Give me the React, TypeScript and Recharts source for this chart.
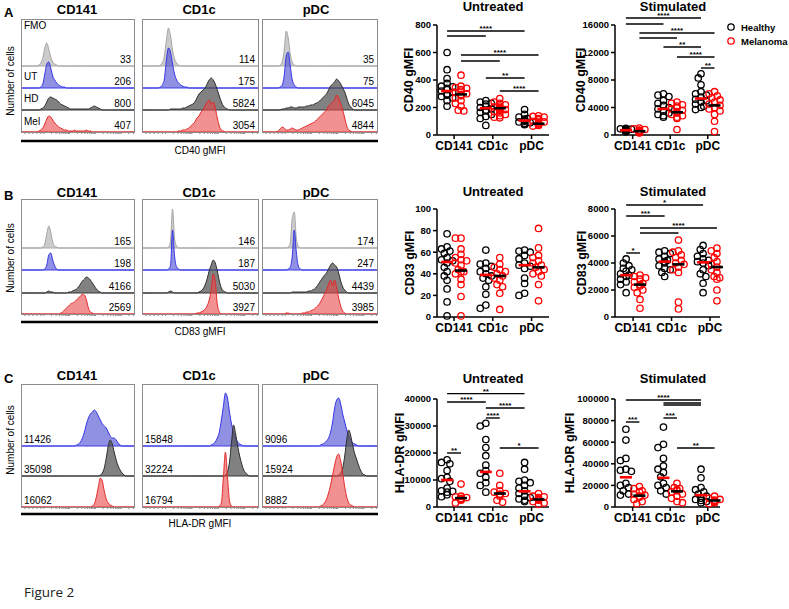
import React from "react";
import {
  AreaChart,
  Area,
  XAxis,
  YAxis,
  ScatterChart,
  Scatter,
  ReferenceLine,
} from "recharts";

const FONT = "'Liberation Sans', Arial, Helvetica, sans-serif";
const CATS = ["CD141", "CD1c", "pDC"];

// ---------- flow histograms: start bin (2px bins) + counts ----------
// A: CD40
const a141Fmo = { at: 9, n: [1, 3, 8, 18, 23, 17, 9, 4, 2, 1] };
const a141Ut = { at: 10, n: [1, 4, 14, 24, 26, 20, 12, 8, 5, 3, 2, 1, 1] };
const a141Hd = { at: 10, n: [1, 2, 4, 8, 12, 13, 12, 11, 10, 8, 6, 5, 4, 3, 2, 1, 1, 1, 1, 1, 1, 1, 1, 1, 1, 2, 3, 4, 3, 2, 1] };
const a141Mel = { at: 9, n: [1, 2, 4, 8, 13, 16, 15, 12, 9, 7, 5, 4, 3, 2, 2, 1, 1, 1, 2, 1, 1, 1, 1, 1, 2, 1, 1] };
const a1cFmo = { at: 9, n: [1, 3, 10, 26, 38, 30, 16, 7, 3, 1] };
const a1cUt = { at: 9, n: [1, 3, 9, 28, 40, 36, 24, 14, 8, 5, 3, 2, 1, 1] };
const a1cHd = { at: 14, n: [1, 1, 1, 1, 1, 1, 2, 2, 3, 4, 5, 6, 8, 12, 16, 18, 20, 22, 26, 30, 32, 30, 26, 20, 14, 8, 4, 2, 1] };
const a1cMel = { at: 18, n: [1, 1, 2, 2, 3, 4, 6, 8, 10, 14, 16, 20, 22, 26, 30, 32, 28, 30, 24, 14, 6, 2, 1] };
const aPdcFmo = { at: 9, n: [1, 4, 16, 35, 28, 12, 4, 1] };
const aPdcUt = { at: 9, n: [1, 3, 12, 32, 36, 22, 8, 3, 1] };
const aPdcHd = { at: 10, n: [1, 1, 2, 2, 3, 3, 2, 2, 3, 3, 3, 3, 4, 4, 5, 5, 6, 7, 8, 10, 12, 14, 16, 20, 24, 26, 28, 31, 29, 26, 22, 18, 12, 6, 3, 1] };
const aPdcMel = { at: 8, n: [1, 3, 5, 4, 2, 2, 3, 4, 3, 2, 2, 3, 4, 5, 6, 7, 8, 9, 10, 12, 14, 16, 18, 20, 22, 26, 28, 30, 32, 37, 34, 28, 22, 14, 6, 2, 1] };

// B: CD83
const b141Fmo = { at: 11, n: [1, 4, 14, 22, 16, 6, 2, 1] };
const b141Ut = { at: 12, n: [1, 5, 15, 17, 10, 4, 1] };
const b141Hd = { at: 13, n: [1, 2, 1, 1, 0, 0, 0, 0, 0, 0, 0, 1, 1, 2, 3, 4, 6, 9, 12, 14, 16, 15, 13, 10, 7, 4, 2, 1] };
const b141Mel = { at: 20, n: [1, 2, 4, 6, 8, 10, 11, 12, 14, 16, 18, 20, 19, 14, 6, 2, 1] };
const b1cFmo = { at: 13, n: [1, 6, 39, 10, 2] };
const b1cUt = { at: 13, n: [1, 4, 40, 14, 3, 1] };
const b1cHd = { at: 13, n: [1, 2, 1, 0, 0, 0, 0, 0, 0, 0, 0, 0, 0, 0, 0, 1, 2, 4, 8, 14, 22, 28, 33, 30, 22, 12, 5, 2, 1] };
const b1cMel = { at: 27, n: [1, 1, 2, 3, 5, 8, 14, 24, 40, 32, 10, 2] };
const bPdcFmo = { at: 13, n: [1, 5, 30, 36, 10, 2] };
const bPdcUt = { at: 13, n: [1, 3, 14, 40, 18, 4, 1] };
const bPdcHd = { at: 15, n: [1, 1, 1, 1, 1, 1, 1, 1, 2, 2, 3, 4, 6, 9, 12, 15, 18, 20, 24, 28, 30, 28, 26, 20, 12, 6, 3, 1] };
const bPdcMel = { at: 12, n: [1, 1, 0, 0, 0, 0, 0, 0, 1, 1, 2, 2, 3, 4, 5, 7, 9, 12, 16, 20, 24, 30, 34, 28, 34, 26, 16, 8, 3, 1] };

// C: HLA-DR
const c141Ut = { at: 28, n: [1, 2, 4, 8, 14, 22, 28, 32, 34, 36, 34, 30, 26, 22, 20, 18, 14, 10, 8, 8, 6, 3, 1] };
const c141Hd = { at: 40, n: [1, 3, 8, 18, 30, 36, 32, 24, 16, 10, 6, 3, 1] };
const c141Mel = { at: 36, n: [1, 3, 10, 20, 29, 26, 16, 8, 4, 2, 1] };
const c1cUt = { at: 34, n: [1, 2, 4, 8, 14, 26, 40, 53, 48, 34, 22, 14, 8, 4, 2, 1] };
const c1cHd = { at: 41, n: [1, 4, 14, 34, 51, 42, 30, 20, 12, 6, 3, 1] };
const c1cMel = { at: 38, n: [1, 4, 30, 55, 30, 6, 1] };
const cPdcUt = { at: 29, n: [1, 2, 3, 5, 8, 14, 24, 38, 46, 48, 42, 32, 24, 16, 10, 6, 3, 2, 1] };
const cPdcHd = { at: 38, n: [1, 3, 8, 20, 36, 46, 40, 30, 22, 16, 10, 5, 2, 1] };
const cPdcMel = { at: 29, n: [1, 2, 4, 8, 14, 22, 32, 42, 50, 53, 46, 34, 20, 10, 4, 2, 1] };

// gMFI numbers printed in the histogram panels
const cd40Numbers = [["33", "206", "800", "407"], ["114", "175", "5824", "3054"], ["35", "75", "6045", "4844"]];
const cd83Numbers = [["165", "198", "4166", "2569"], ["146", "187", "5030", "3927"], ["174", "247", "4439", "3985"]];
const hlaNumbers = [["11426", "35098", "16062"], ["15848", "32224", "16794"], ["9096", "15924", "8882"]];
const rowNames = ["FMO", "UT", "HD", "Mel"];

// ---------- dot plots: [CD141, CD1c, pDC] ----------
const cd40UtHealthy = [
  [600, 475, 410, 375, 355, 350, 340, 330, 320, 310, 300, 290, 280, 270, 250, 210],
  [250, 240, 230, 225, 210, 200, 190, 180, 175, 165, 150, 135, 120, 70],
  [185, 150, 130, 120, 115, 110, 105, 100, 95, 90, 85, 80, 75],
];
const cd40UtMelanoma = [
  [435, 355, 345, 340, 330, 320, 310, 300, 295, 290, 285, 270, 250, 230, 210, 180, 175],
  [265, 240, 230, 220, 210, 205, 200, 195, 190, 185, 180, 170, 160, 150, 140, 130, 125],
  [140, 135, 130, 120, 110, 100, 95, 90, 85, 80, 75, 70, 65],
];
const cd40UtMeans = { healthy: [320, 195, 105], melanoma: [295, 195, 82] };
const cd40UtSig: [number, number, number, string][] = [
  [0, 4, 756, "****"], [0, 2, 720, ""], [1, 5, 582, "****"], [1, 3, 538, ""], [2, 4, 415, "**"], [3, 5, 320, "****"],
];

const cd40StHealthy = [
  [950, 900, 850, 800, 780, 750, 720, 700, 680, 650, 620, 600, 560, 520, 480],
  [6000, 5800, 5600, 5000, 4600, 4300, 4000, 3800, 3500, 3200, 3000, 2800, 2600],
  [8900, 8300, 7300, 6300, 6000, 5800, 5500, 5200, 5000, 4800, 4500, 4200, 4000, 3700],
];
const cd40StMelanoma = [
  [1000, 900, 800, 700, 650, 600, 560, 520, 480, 450, 400, 350, 300],
  [4800, 4600, 4400, 4200, 4000, 3800, 3600, 3400, 3200, 3000, 2800, 2600, 2400, 800],
  [6300, 6000, 5700, 5400, 5100, 4800, 4500, 4300, 4000, 3800, 3500, 3000, 2000, 500],
];
const cd40StMeans = { healthy: [700, 3800, 5300], melanoma: [550, 3300, 4300] };
const cd40StSig: [number, number, number, string][] = [
  [0, 4, 17018, "****"], [0, 2, 16145, ""], [1, 5, 14836, "****"], [1, 3, 14109, ""],
  [2, 4, 12800, "**"], [3, 5, 11345, "****"], [4, 5, 9745, "**"],
];

const cd83UtHealthy = [
  [77, 65, 63, 61, 59, 55, 53, 52, 50, 46, 42, 38, 34, 26, 14, 1],
  [62, 50, 49, 47, 45, 42, 40, 38, 36, 34, 28, 21, 11, 8],
  [62, 61, 60, 57, 54, 50, 48, 47, 45, 36, 31, 22, 20],
];
const cd83UtMelanoma = [
  [73, 73, 63, 58, 55, 53, 52, 50, 48, 44, 42, 42, 40, 35, 30, 19, 1],
  [55, 49, 46, 44, 42, 40, 38, 36, 34, 30, 28, 22, 7],
  [82, 64, 57, 55, 52, 50, 48, 46, 44, 42, 40, 38, 30, 15],
];
const cd83UtMeans = { healthy: [51, 39, 48], melanoma: [43, 38, 46] };

const cd83StHealthy = [
  [4300, 4000, 3800, 3600, 3500, 3400, 3200, 3100, 3000, 2800, 2600, 2400, 1800],
  [4900, 4800, 4700, 4500, 4300, 4200, 4100, 4000, 3800, 3600, 3500, 3300, 3000],
  [5300, 5000, 4700, 4500, 4300, 4200, 4100, 4000, 3800, 3500, 3200, 3000, 2500, 1800],
];
const cd83StMelanoma = [
  [3100, 3000, 2900, 2800, 2600, 2500, 2400, 2300, 2200, 2000, 1800, 1300, 650],
  [5700, 4900, 4800, 4600, 4400, 4200, 4000, 3900, 3700, 3500, 3300, 1100, 600],
  [5100, 4900, 4700, 4400, 4100, 3900, 3700, 3500, 3300, 3000, 2900, 2800, 2000, 1200],
];
const cd83StMeans = { healthy: [3100, 4100, 4050], melanoma: [2400, 3900, 3700] };
const cd83StSig: [number, number, number, string][] = [
  [0, 4, 8296, "*"], [0, 2, 7481, "***"], [1, 5, 6593, "****"], [1, 3, 6222, ""], [0, 1, 4741, "*"],
];

const hlaUtHealthy = [
  [17500, 16500, 16000, 13500, 11000, 10500, 9500, 7000, 6000, 5800, 5500, 4500, 3800],
  [31000, 30000, 25000, 22000, 19000, 15500, 13500, 12500, 11000, 9000, 8000, 5500],
  [16500, 14000, 10000, 9500, 9000, 8000, 7000, 6000, 5000, 4000, 3500, 3000, 2500, 2000],
];
const hlaUtMelanoma = [
  [8500, 4000, 3800, 3500, 3200, 3000, 2800, 2500, 1500],
  [12500, 8000, 6000, 5500, 5000, 4800, 4500, 4000, 2500, 1800],
  [5000, 4000, 3800, 3500, 3000, 2800, 2500, 2000, 1500, 1000],
];
const hlaUtMeans = { healthy: [10000, 13000, 5800], melanoma: [3300, 5000, 2800] };
const hlaUtSig: [number, number, number, string][] = [
  [0, 4, 42000, "**"], [0, 2, 38889, "****"], [2, 4, 36667, "****"], [2, 3, 32963, "****"],
  [3, 5, 21852, "*"], [0, 1, 20000, "**"],
];

const hlaStHealthy = [
  [72000, 62000, 45000, 43000, 35000, 34000, 33000, 22000, 20000, 18000, 15000, 12000, 11000],
  [74000, 58000, 55000, 45000, 38000, 35000, 32000, 28000, 22000, 20000, 18000, 15000, 12000],
  [35000, 27000, 18000, 16000, 14000, 12000, 10000, 8000, 7000, 6000, 5000, 4000],
];
const hlaStMelanoma = [
  [19000, 17000, 15000, 14000, 12000, 11000, 10000, 9000, 7000, 5000, 3000],
  [22000, 18000, 17000, 16000, 15000, 14000, 12000, 10000, 8000, 5000, 4000],
  [10000, 8000, 7000, 6500, 6000, 5500, 5000, 4500, 4000, 3000],
];
const hlaStMeans = { healthy: [27500, 27000, 11000], melanoma: [10500, 14500, 6000] };
const hlaStSig: [number, number, number, string][] = [
  [0, 4, 99074, "****"], [2, 4, 96300, ""], [2, 4, 94400, ""], [2, 3, 82407, "***"],
  [0, 1, 78704, "***"], [3, 5, 54630, "**"],
];

// ---------- histogram panel ----------
const NB = 57;
const HSTY = [
  { fill: "#cccccc", op: 1, stroke: "#a5a5a5" },
  { fill: "#4d4dd2", op: 0.62, stroke: "#3535e8" },
  { fill: "#505050", op: 0.72, stroke: "#2e2e2e" },
  { fill: "#e84848", op: 0.6, stroke: "#e42a2a" },
];
const logTicks = [2, 4, 6, 8, 10].concat(
  [11.5, 24.5, 37.5, 50.5].flatMap((d) =>
    [1, 2, 3, 4, 5, 6, 7, 8, 9].map((k) => d + 13 * Math.log10(k)),
  ),
).filter((t) => t <= NB);

const noTick = () => <g />;

function HistPanel({ x, w, top, bottom, baselines, hists, styles }: any) {
  const H = bottom - top;
  const rows: any[] = [];
  for (let b = 0; b <= NB; b++) {
    const r: any = { b };
    hists.forEach((h: any, i: number) => {
      const base = bottom - baselines[i];
      const k = b - h.at;
      const v = k >= 0 && k < h.n.length ? h.n[k] : 0;
      r["h" + i] = [base, base + v];
    });
    rows.push(r);
  }
  return (
    <div style={{ position: "absolute", left: x, top }}>
      <AreaChart width={w} height={H + 4} data={rows} margin={{ top: 0, right: 0, bottom: 0, left: 0 }}>
        <XAxis type="number" dataKey="b" domain={[0, NB]} ticks={logTicks} height={4} tickSize={2}
          axisLine={false} tickLine={{ stroke: "#666", strokeWidth: 0.8 }} tick={noTick} interval={0} />
        <YAxis hide domain={[0, H]} allowDataOverflow />
        {hists.map((_: any, i: number) => {
          const s = HSTY[styles[i]];
          return (
            <Area key={i} dataKey={"h" + i} type="monotone" fill={s.fill} fillOpacity={s.op}
              stroke={s.stroke} strokeWidth={1} isAnimationActive={false} dot={false} activeDot={false} />
          );
        })}
      </AreaChart>
    </div>
  );
}

// ---------- dot plot ----------
const OFF = 0.18;
const colX = (c: number) => Math.floor(c / 2) + (c % 2 ? OFF : -OFF);

// spread points sideways a little where they would sit on top of each other
function swarm(vals: number[], g: number, side: number, pxX: number, pxY: number) {
  const placed: { px: number; py: number }[] = [];
  const out: { x: number; y: number }[] = [];
  [...vals].sort((a, b) => b - a).forEach((v) => {
    const py = v * pxY;
    let dx = 0;
    for (let k = 0; k < 5; k++) {
      const cand = k === 0 ? 0 : (k % 2 ? -1 : 1) * Math.ceil(k / 2) * 2.8;
      if (placed.every((p) => Math.hypot(p.px - cand, p.py - py) >= 4.6)) {
        dx = cand;
        break;
      }
    }
    placed.push({ px: dx, py });
    out.push({ x: g + side * OFF + dx / pxX, y: v });
  });
  return out;
}

const ring = (color: string) => (p: any) => (
  <circle cx={p.cx} cy={p.cy} r={3.2} fill="none" stroke={color} strokeWidth={1.3} />
);
const meanBar = (color: string) => (p: any) => (
  <line x1={p.cx - 6} x2={p.cx + 6} y1={p.cy} y2={p.cy} stroke={color} strokeWidth={2.6} />
);

function DotPlot({ left, right, top, bottom, yMax, yTicks, xDom, healthy, melanoma, means, sig }: any) {
  const plotW = right - left;
  const plotH = bottom - top;
  const pxX = plotW / (xDom[1] - xDom[0]);
  const pxY = plotH / yMax;
  const hPts = healthy.flatMap((v: number[], g: number) => swarm(v, g, -1, pxX, pxY));
  const mPts = melanoma.flatMap((v: number[], g: number) => swarm(v, g, 1, pxX, pxY));
  const hMean = means.healthy.map((y: number, g: number) => ({ x: g - OFF, y }));
  const mMean = means.melanoma.map((y: number, g: number) => ({ x: g + OFF, y }));
  const axisStyle = { stroke: "#000", strokeWidth: 1.5 };
  return (
    <div style={{ position: "absolute", left: left - 80, top: top - 24 }}>
      <ScatterChart width={80 + plotW + 12} height={24 + plotH + 30}
        margin={{ top: 24, right: 12, bottom: 0, left: 0 }}>
        <XAxis type="number" dataKey="x" domain={xDom} ticks={[0, 1, 2]} interval={0}
          tickFormatter={(v: number) => CATS[v]} height={30} tickSize={4}
          axisLine={axisStyle} tickLine={axisStyle}
          tick={{ fill: "#000", fontSize: 12, fontWeight: 700, fontFamily: FONT }} />
        <YAxis type="number" dataKey="y" domain={[0, yMax]} ticks={yTicks} interval={0} width={80} tickSize={4}
          axisLine={axisStyle} tickLine={axisStyle}
          tick={{ fill: "#000", fontSize: 9.5, fontWeight: 700, fontFamily: FONT }} />
        {sig && sig.map(([c1, c2, y, s]: any, i: number) => (
          <ReferenceLine key={i} segment={[{ x: colX(c1), y }, { x: colX(c2), y }]} stroke="#000"
            strokeWidth={1.4} ifOverflow="visible"
            label={s ? { value: s, position: "top", offset: 0, fontSize: 8, fontWeight: 700, fill: "#000", fontFamily: FONT } : undefined} />
        ))}
        <Scatter data={hPts} shape={ring("#000")} isAnimationActive={false} />
        <Scatter data={mPts} shape={ring("#ff0000")} isAnimationActive={false} />
        <Scatter data={hMean} shape={meanBar("#ff0000")} isAnimationActive={false} />
        <Scatter data={mMean} shape={meanBar("#000")} isAnimationActive={false} />
      </ScatterChart>
    </div>
  );
}

// ---------- layout ----------
const PX = [[21, 134], [142, 258], [262, 377]];
const UT_X = [437, 549];
const ST_X = [615, 720];
const UT_DOM = [-0.44, 2.45];
const ST_DOM = [-0.47, 2.26];

const rowA = { top: 19, bottom: 132, base: [66, 88, 110, 132] };
const rowB = { top: 199, bottom: 314, base: [248, 270, 293, 314] };
const rowC = { top: 384, bottom: 507, base: [446, 476, 507] };

const histA = [[a141Fmo, a141Ut, a141Hd, a141Mel], [a1cFmo, a1cUt, a1cHd, a1cMel], [aPdcFmo, aPdcUt, aPdcHd, aPdcMel]];
const histB = [[b141Fmo, b141Ut, b141Hd, b141Mel], [b1cFmo, b1cUt, b1cHd, b1cMel], [bPdcFmo, bPdcUt, bPdcHd, bPdcMel]];
const histC = [[c141Ut, c141Hd, c141Mel], [c1cUt, c1cHd, c1cMel], [cPdcUt, cPdcHd, cPdcMel]];

const T = (p: any) => <text fontFamily={FONT} fill="#000" {...p} />;

export default function App() {
  const titles = (y: number) =>
    ["CD141", "CD1c", "pDC"].map((t, i) => (
      <T key={t + y} x={[77, 199, 316][i]} y={y} fontSize={13} fontWeight={700} textAnchor="middle">{t}</T>
    ));
  const vlabel = (x: number, y: number, s: string, size: number, bold: boolean) => (
    <T x={x} y={y} fontSize={size} fontWeight={bold ? 700 : 400} textAnchor="middle"
      dominantBaseline="central" transform={`rotate(-90 ${x} ${y})`}>{s}</T>
  );
  return (
    <div style={{ position: "absolute", left: 0, top: 0, width: 789, height: 609, background: "#fff", overflow: "hidden" }}>
      {PX.map(([l, r], i) => (
        <HistPanel key={"a" + i} x={l} w={r - l} top={rowA.top} bottom={rowA.bottom} baselines={rowA.base} hists={histA[i]} styles={[0, 1, 2, 3]} />
      ))}
      {PX.map(([l, r], i) => (
        <HistPanel key={"b" + i} x={l} w={r - l} top={rowB.top} bottom={rowB.bottom} baselines={rowB.base} hists={histB[i]} styles={[0, 1, 2, 3]} />
      ))}
      {PX.map(([l, r], i) => (
        <HistPanel key={"c" + i} x={l} w={r - l} top={rowC.top} bottom={rowC.bottom} baselines={rowC.base} hists={histC[i]} styles={[1, 2, 3]} />
      ))}

      <DotPlot left={UT_X[0]} right={UT_X[1]} top={25} bottom={135} yMax={800} yTicks={[0, 200, 400, 600, 800]}
        xDom={UT_DOM} healthy={cd40UtHealthy} melanoma={cd40UtMelanoma} means={cd40UtMeans} sig={cd40UtSig} />
      <DotPlot left={ST_X[0]} right={ST_X[1]} top={25} bottom={135} yMax={16000} yTicks={[0, 4000, 8000, 12000, 16000]}
        xDom={ST_DOM} healthy={cd40StHealthy} melanoma={cd40StMelanoma} means={cd40StMeans} sig={cd40StSig} />
      <DotPlot left={UT_X[0]} right={UT_X[1]} top={209} bottom={317} yMax={100} yTicks={[0, 20, 40, 60, 80, 100]}
        xDom={UT_DOM} healthy={cd83UtHealthy} melanoma={cd83UtMelanoma} means={cd83UtMeans} sig={null} />
      <DotPlot left={ST_X[0]} right={ST_X[1]} top={209} bottom={317} yMax={8000} yTicks={[0, 2000, 4000, 6000, 8000]}
        xDom={ST_DOM} healthy={cd83StHealthy} melanoma={cd83StMelanoma} means={cd83StMeans} sig={cd83StSig} />
      <DotPlot left={UT_X[0]} right={UT_X[1]} top={399} bottom={507} yMax={40000} yTicks={[0, 10000, 20000, 30000, 40000]}
        xDom={UT_DOM} healthy={hlaUtHealthy} melanoma={hlaUtMelanoma} means={hlaUtMeans} sig={hlaUtSig} />
      <DotPlot left={ST_X[0]} right={ST_X[1]} top={399} bottom={507} yMax={100000} yTicks={[0, 20000, 40000, 60000, 80000, 100000]}
        xDom={ST_DOM} healthy={hlaStHealthy} melanoma={hlaStMelanoma} means={hlaStMeans} sig={hlaStSig} />

      <svg width={789} height={609} style={{ position: "absolute", left: 0, top: 0, pointerEvents: "none" }}>
        <T x={4} y={17} fontSize={13} fontWeight={700}>A</T>
        <T x={4} y={200} fontSize={13} fontWeight={700}>B</T>
        <T x={4} y={383} fontSize={13} fontWeight={700}>C</T>
        {titles(14)}
        {titles(197)}
        {titles(380)}

        {[rowA, rowB, rowC].map((r, ri) =>
          PX.map(([l, rr], i) => (
            <rect key={ri + "-" + i} x={l + 0.5} y={r.top + 0.5} width={rr - l} height={r.bottom - r.top}
              fill="none" stroke="#8c8c8c" strokeWidth={1} />
          )),
        )}

        {rowNames.map((n, i) => (
          <T key={n} x={24} y={[29, 80, 102, 125][i]} fontSize={10}>{n}</T>
        ))}
        {cd40Numbers.map((col, p) =>
          col.map((s, i) => (
            <T key={"n40" + p + i} x={PX[p][1] - 3} y={rowA.base[i] - 3} fontSize={10} textAnchor="end">{s}</T>
          )),
        )}
        {cd83Numbers.map((col, p) =>
          col.map((s, i) => (
            <T key={"n83" + p + i} x={PX[p][1] - 3} y={rowB.base[i] - 3} fontSize={10} textAnchor="end">{s}</T>
          )),
        )}
        {hlaNumbers.map((col, p) =>
          col.map((s, i) => (
            <T key={"nhla" + p + i} x={PX[p][0] + 3} y={rowC.base[i] - 3} fontSize={10}>{s}</T>
          )),
        )}

        {vlabel(10, 81, "Number of cells", 10, false)}
        {vlabel(10, 258, "Number of cells", 10, false)}
        {vlabel(10, 440, "Number of cells", 10, false)}

        <line x1={21} x2={378} y1={141} y2={141} stroke="#000" strokeWidth={2.5} />
        <line x1={21} x2={378} y1={322} y2={322} stroke="#000" strokeWidth={2.5} />
        <line x1={21} x2={378} y1={514} y2={514} stroke="#000" strokeWidth={2.5} />
        <T x={200} y={154} fontSize={10} textAnchor="middle">CD40 gMFI</T>
        <T x={200} y={335} fontSize={10} textAnchor="middle">CD83 gMFI</T>
        <T x={200} y={527} fontSize={10} textAnchor="middle">HLA-DR gMFI</T>

        <T x={493} y={10.5} fontSize={13} fontWeight={700} textAnchor="middle">Untreated</T>
        <T x={673} y={10.5} fontSize={13} fontWeight={700} textAnchor="middle">Stimulated</T>
        <T x={493} y={196} fontSize={13} fontWeight={700} textAnchor="middle">Untreated</T>
        <T x={673} y={196} fontSize={13} fontWeight={700} textAnchor="middle">Stimulated</T>
        <T x={493} y={383} fontSize={13} fontWeight={700} textAnchor="middle">Untreated</T>
        <T x={673} y={383} fontSize={13} fontWeight={700} textAnchor="middle">Stimulated</T>

        {vlabel(409, 80, "CD40 gMFI", 12.5, true)}
        {vlabel(581, 80, "CD40 gMFI", 12.5, true)}
        {vlabel(410, 263, "CD83 gMFI", 12.5, true)}
        {vlabel(582, 263, "CD83 gMFI", 12.5, true)}
        {vlabel(400, 453, "HLA-DR gMFI", 12.5, true)}
        {vlabel(570, 453, "HLA-DR gMFI", 12.5, true)}

        <circle cx={731} cy={27} r={3.2} fill="none" stroke="#000" strokeWidth={1.3} />
        <T x={741} y={30.5} fontSize={9.5} fontWeight={700}>Healthy</T>
        <circle cx={731} cy={41} r={3.2} fill="none" stroke="#ff0000" strokeWidth={1.3} />
        <T x={741} y={44.5} fontSize={9.5} fontWeight={700}>Melanoma</T>

        <text x={24} y={597} fontSize={13.5} fontFamily="'Open Sans', 'Noto Sans', sans-serif" fill="#222">Figure 2</text>
      </svg>
    </div>
  );
}
